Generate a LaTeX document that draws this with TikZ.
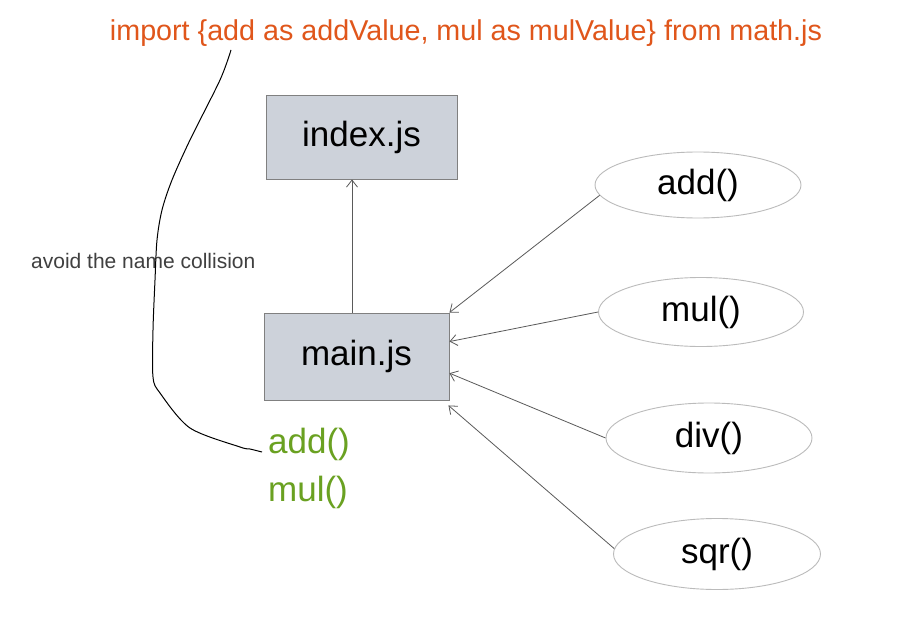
\documentclass[tikz,border=0pt]{standalone}
\usepackage{fontspec}
\setmainfont{Liberation Sans}
\usetikzlibrary{arrows.meta,calc,shapes.geometric}
\definecolor{orangetxt}{HTML}{E0561B}
\definecolor{greentxt}{HTML}{6AA121}
\definecolor{boxfill}{HTML}{CDD2DA}
\definecolor{boxline}{HTML}{808080}
\definecolor{arrowgray}{HTML}{5A5A5A}
\definecolor{ellline}{HTML}{BBBBBB}
\begin{document}
\begin{tikzpicture}[x=1pt,y=-1pt,
  filebox/.style={draw=boxline,fill=boxfill,line width=0.9pt,inner sep=0pt,
    font=\fontsize{35}{40}\selectfont},
  fnell/.style={ellipse,draw=ellline,line width=0.9pt,inner sep=0pt,
    font=\fontsize{35}{40}\selectfont},
  conn/.style={draw=arrowgray,line width=0.8pt,-{Straight Barb[length=7pt,width=11pt,line width=0.8pt]}},
  greenlbl/.style={text=greentxt,font=\fontsize{35}{40}\selectfont,anchor=base west,inner sep=0pt}]
\useasboundingbox (0,0) rectangle (902,631);
\fill[white] (0,0) rectangle (902,631);

\node[anchor=base,text=orangetxt,font=\fontsize{28.7}{32}\selectfont,inner sep=0pt] (imp) at (466,41)
  {import \{add as addValue, mul as mulValue\} from math.js};

\node[filebox,minimum width=191pt,minimum height=84pt] (index) at (361.5,137) {index.js};
\node[filebox,minimum width=185pt,minimum height=87pt] (main) at (356.5,356.5) {main.js};

\node[fnell,minimum width=206pt,minimum height=66pt] (add) at (698,185) {add()};
\node[fnell,minimum width=205pt,minimum height=69pt] (mul) at (701,312) {mul()};
\node[fnell,minimum width=206pt,minimum height=70pt] (div) at (709,438) {div()};
\node[fnell,minimum width=207pt,minimum height=71pt] (sqr) at (717,554) {sqr()};

\node[anchor=base west,text=black!75,font=\fontsize{21}{24}\selectfont,inner sep=0pt] (avoid) at (31,268) {avoid the name collision};

\node[greenlbl] (gadd) at (268,453) {add()};
\node[greenlbl] (gmul) at (268,501) {mul()};

\coordinate (upstart) at ($(main.north)+(-4.5,0)$);
\draw[conn] (upstart) -- (upstart |- index.south);
\draw[conn] (add.186) -- (main.north east);
\draw[conn] (mul.west) -- ($(main.north east)!0.33!(main.south east)$);
\draw[conn] (div.west) -- ($(main.north east)!0.69!(main.south east)$);
\draw[conn] (sqr.177) -- ($(main.south east)+(-1,5)$);

\coordinate (ctop) at (231,50);
\coordinate (cend) at ($(gadd.base west)+(-6,-1)$);
\draw[black,line width=1pt] plot[smooth,tension=0.5] coordinates {
  (ctop) (220,80) (190,140) (172,180) (162,210) (157,240) (155,280) (153,330)
  (153,377) (160,393) (190,428) (240,447) (250,449) (cend)};
\end{tikzpicture}
\end{document}
